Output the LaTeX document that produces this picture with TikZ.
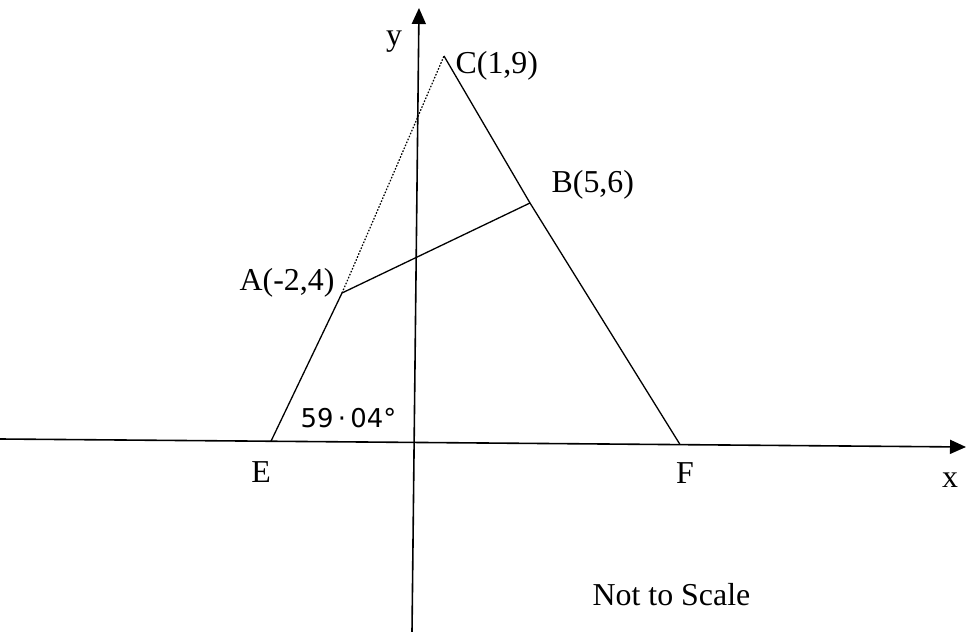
\documentclass[tikz,border=0pt]{standalone}
\usepackage{fontspec}
\setmainfont{Liberation Serif}
\newfontfamily\handfont{DejaVu Sans}
\usetikzlibrary{arrows.meta}
\begin{document}
\begin{tikzpicture}[x=1bp,y=-1bp,line width=1.3bp,
  axisline/.style={line width=1.6bp,-{Triangle[length=16bp,width=14bp]}},
  lbl/.style={font=\fontsize{32}{38}\selectfont,inner sep=0pt,anchor=base west},
  clbl/.style={font=\fontsize{32}{38}\selectfont,inner sep=0pt,anchor=base},
  hand/.style={font=\handfont\fontsize{26}{30}\selectfont,inner sep=0pt,anchor=base west}]
\useasboundingbox (0,0) rectangle (966,632);
\fill[white] (0,0) rectangle (966,632);
% axes
\coordinate (xl) at (0,439);
\coordinate (xr) at (966,447);
\coordinate (yb) at (412,632);
\coordinate (yt) at (419,8);
\draw[axisline] (xl) -- (xr);
\draw[axisline] (yb) -- (yt);
% points
\coordinate (E) at (271,441.2);
\coordinate (F) at (680,444.5);
\coordinate (A) at (342,293);
\coordinate (B) at (530,203);
\coordinate (C) at (444,56);
% lines
\draw (E) -- (A) -- (B);
\draw (C) -- (B) -- (F);
\draw[line width=1.2bp,dash pattern=on 1.6bp off 1.6bp] (A) -- (C);
% labels
\node[clbl] (ylab) at (394,46) {y};
\node[clbl] (xlab) at (950,487) {x};
\node[lbl] (Clab) at (455,74) {C(1,9)};
\node[lbl] (Blab) at (551,193) {B(5,6)};
\node[lbl] (Alab) at (239,290) {A(-2,4)};
\node[clbl] (Elab) at (261,482) {E};
\node[clbl] (Flab) at (685,483) {F};
\node[lbl] (note) at (592,605) {Not to Scale};
\node[hand] (ang) at (300,427) {59\,·\,04°};
\end{tikzpicture}
\end{document}
